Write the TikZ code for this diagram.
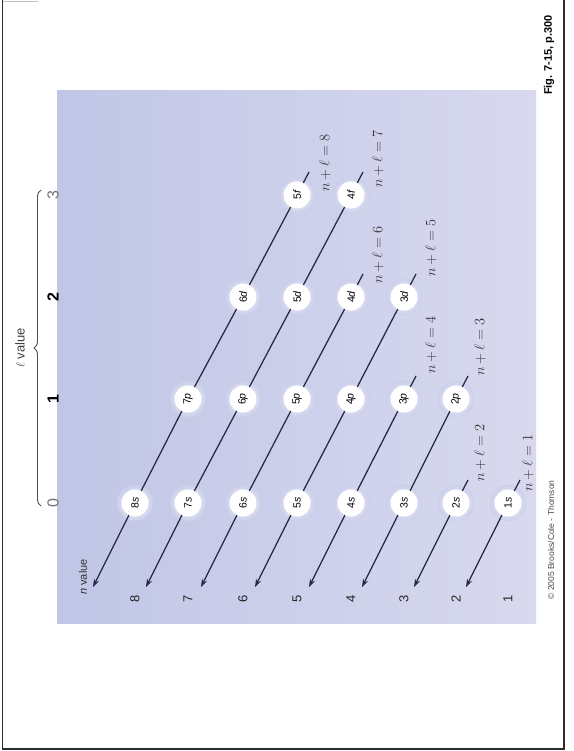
\documentclass[tikz,border=0pt]{standalone}
\usepackage{fontspec}
\setmainfont{Liberation Serif}
\setsansfont{Liberation Sans}
\usetikzlibrary{arrows.meta,decorations.pathreplacing}
\definecolor{panelL}{RGB}{192,198,230}
\definecolor{panelR}{RGB}{216,217,238}
\definecolor{lineC}{RGB}{36,40,68}
\definecolor{frameC}{RGB}{45,45,45}
\begin{document}
\begin{tikzpicture}[x=1pt,y=-1pt,
  orb/.style={circle,fill=white,minimum size=27pt,inner sep=0pt,
    font=\sffamily\fontsize{10.5}{10.5}\selectfont,rotate=90},
  diag/.style={draw=lineC,line width=1.25pt},
  arr/.style={diag,-{Stealth[length=8pt,width=5.5pt]}},
  sumlab/.style={rotate=90,anchor=west,inner sep=0pt,text=black!80,
    font=\fontsize{15}{15}\selectfont},
  nnum/.style={rotate=90,inner sep=0pt,text=black!85,font=\sffamily\fontsize{13}{13}\selectfont},
  lnum/.style={rotate=90,inner sep=0pt,font=\sffamily\fontsize{16}{16}\selectfont},
  glowA/.style={inner color=white,outer color=panelL!55!panelR}]

\useasboundingbox (0,0) rectangle (573,751);
\fill[white] (0,0) rectangle (573,751);
\shade[left color=panelL,right color=panelR] (57,91) rectangle (536,623);
\draw[frameC,line width=1.4pt] (2.5,0) -- (2.5,749) -- (564,749) -- (564,0);
\draw[black!25,line width=0.6pt] (2.5,1) -- (38,1);

% glows
\foreach \x/\y in {508/503,456/503,404/503,351/503,297/503,243/503,188/503,135/503,
                   456/399,404/399,351/399,297/399,243/399,188/399,
                   404/297,351/297,297/297,243/297,
                   351/195,297/195}
  \shade[glowA] (\x,\y) circle (18);

% orbitals
\node[orb] (o1s) at (508,503) {1\textit{s}};
\node[orb] (o2s) at (456,503) {2\textit{s}};
\node[orb] (o3s) at (404,503) {3\textit{s}};
\node[orb] (o4s) at (351,503) {4\textit{s}};
\node[orb] (o5s) at (297,503) {5\textit{s}};
\node[orb] (o6s) at (243,503) {6\textit{s}};
\node[orb] (o7s) at (188,503) {7\textit{s}};
\node[orb] (o8s) at (135,503) {8\textit{s}};
\node[orb] (o2p) at (456,399) {2\textit{p}};
\node[orb] (o3p) at (404,399) {3\textit{p}};
\node[orb] (o4p) at (351,399) {4\textit{p}};
\node[orb] (o5p) at (297,399) {5\textit{p}};
\node[orb] (o6p) at (243,399) {6\textit{p}};
\node[orb] (o7p) at (188,399) {7\textit{p}};
\node[orb] (o3d) at (404,297) {3\textit{d}};
\node[orb] (o4d) at (351,297) {4\textit{d}};
\node[orb] (o5d) at (297,297) {5\textit{d}};
\node[orb] (o6d) at (243,297) {6\textit{d}};
\node[orb] (o4f) at (351,195) {4\textit{f}};
\node[orb] (o5f) at (297,195) {5\textit{f}};

% stub ends and arrow tips
\coordinate (s1) at (520,480);
\coordinate (s2) at (468,480);
\coordinate (s3) at (468,376);
\coordinate (s4) at (416,376);
\coordinate (s5) at (416,274);
\coordinate (s6) at (363,274);
\coordinate (s7) at (363,172);
\coordinate (s8) at (309,172);
\coordinate (t1) at (466,587);
\coordinate (t2) at (414,587);
\coordinate (t3) at (362,587);
\coordinate (t4) at (309,587);
\coordinate (t5) at (255,587);
\coordinate (t6) at (201,587);
\coordinate (t7) at (146,587);
\coordinate (t8) at (93,587);

% diagonals
\draw[diag] (s8) -- (o5f) -- (o6d) -- (o7p) -- (o8s);
\draw[diag] (s7) -- (o4f) -- (o5d) -- (o6p) -- (o7s);
\draw[diag] (s6) -- (o4d) -- (o5p) -- (o6s);
\draw[diag] (s5) -- (o3d) -- (o4p) -- (o5s);
\draw[diag] (s4) -- (o3p) -- (o4s);
\draw[diag] (s3) -- (o2p) -- (o3s);
\draw[diag] (s2) -- (o2s);
\draw[diag] (s1) -- (o1s);
\draw[arr] (o8s) -- (t8);
\draw[arr] (o7s) -- (t7);
\draw[arr] (o6s) -- (t6);
\draw[arr] (o5s) -- (t5);
\draw[arr] (o4s) -- (t4);
\draw[arr] (o3s) -- (t3);
\draw[arr] (o2s) -- (t2);
\draw[arr] (o1s) -- (t1);

% n + l labels
\node[sumlab] (k8) at (325,192) {$n+\ell=8$};
\node[sumlab] (k7) at (378,188) {$n+\ell=7$};
\node[sumlab] (k6) at (378,284) {$n+\ell=6$};
\node[sumlab] (k5) at (431,277) {$n+\ell=5$};
\node[sumlab] (k4) at (431,374) {$n+\ell=4$};
\node[sumlab] (k3) at (480,376) {$n+\ell=3$};
\node[sumlab] (k2) at (480,482) {$n+\ell=2$};
\node[sumlab] (k1) at (528,492) {$n+\ell=1$};

% n axis
\node[nnum] (n8) at (135,599) {8};
\node[nnum] (n7) at (188,599) {7};
\node[nnum] (n6) at (243,599) {6};
\node[nnum] (n5) at (297,599) {5};
\node[nnum] (n4) at (351,599) {4};
\node[nnum] (n3) at (404,599) {3};
\node[nnum] (n2) at (456,599) {2};
\node[nnum] (n1) at (508,599) {1};
\node[rotate=90,inner sep=0pt,text=black!80,font=\sffamily\fontsize{11}{11}\selectfont] (nv) at (83,577) {\textit{n} value};

% l axis
\node[lnum,text=black!55] (l0) at (53,503) {0};
\node[lnum,font=\sffamily\bfseries\fontsize{16}{16}\selectfont] (l1) at (53,399) {1};
\node[lnum,font=\sffamily\bfseries\fontsize{16}{16}\selectfont] (l2) at (53,297) {2};
\node[lnum,text=black!55] (l3) at (53,195) {3};
\draw[black!70,line width=0.9pt,decorate,decoration={brace,amplitude=7pt}]
  (41,506) -- (41,190);
\node[rotate=90,inner sep=0pt,text=black!75,font=\sffamily\fontsize{13}{13}\selectfont] (lv) at (20,348) {$\ell$ value};

% side texts
\node[rotate=90,anchor=west,inner sep=0pt,font=\sffamily\bfseries\fontsize{11}{11}\selectfont] (fig) at (549,95) {Fig. 7-15, p.300};
\node[rotate=90,inner sep=0pt,text=black!70,font=\sffamily\fontsize{8.5}{8.5}\selectfont] (copy) at (551,540) {\textcopyright\ 2005 Brooks/Cole - Thomson};
\end{tikzpicture}
\end{document}
